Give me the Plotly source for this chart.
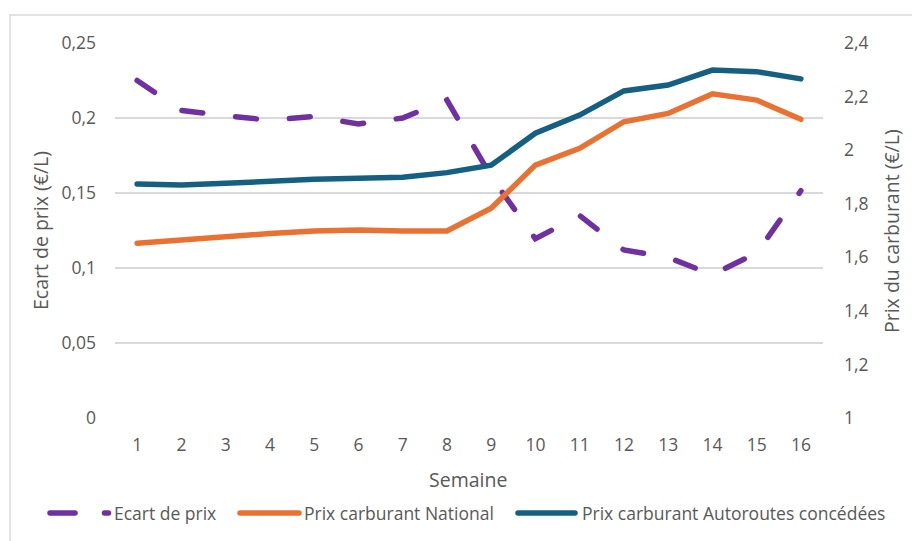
import plotly.graph_objects as go

weeks = list(range(1, 17))
ecart = [0.225, 0.205, 0.2015, 0.1985, 0.201, 0.196, 0.200, 0.212,
         0.161, 0.1195, 0.135, 0.112, 0.107, 0.0955, 0.110, 0.1515]
national = [1.652, 1.664, 1.681, 1.689, 1.698, 1.702, 1.698, 1.698,
            1.783, 1.944, 2.007, 2.106, 2.137, 2.210, 2.187, 2.115]
autoroutes = [1.8735, 1.870, 1.876, 1.885, 1.891, 1.895, 1.899, 1.916,
              1.944, 2.063, 2.131, 2.221, 2.243, 2.299, 2.293, 2.266]

left_ticks = [0, 0.05, 0.1, 0.15, 0.2, 0.25]
left_text = ["0", "0,05", "0,1", "0,15", "0,2", "0,25"]
right_ticks = [1, 1.2, 1.4, 1.6, 1.8, 2.0, 2.2, 2.4]
right_text = ["1", "1,2", "1,4", "1,6", "1,8", "2", "2,2", "2,4"]

names = ["Ecart de prix", "Prix carburant National", "Prix carburant Autoroutes concédées"]
PURPLE = "#7030A0"
ORANGE = "#E97132"
BLUE = "#156082"
GREY = "#595959"
GRID = "#D9D9D9"
FONT = "Open Sans"
TICK_SIZE = 17.5
TITLE_SIZE = 19.5

W, H = 912, 541
L, R, T, B = 115, 823, 43, 418


def px(x):
    return (x - L) / (R - L)


def py(y):
    return (B - y) / (B - T)


fig = go.Figure()
fig.add_trace(go.Scatter(x=weeks, y=ecart, name=names[0], mode="lines",
                         line=dict(color=PURPLE, width=5.5, dash="21px,33px"),
                         yaxis="y"))
fig.add_trace(go.Scatter(x=weeks, y=national, name=names[1], mode="lines",
                         line=dict(color=ORANGE, width=5.5), yaxis="y2"))
fig.add_trace(go.Scatter(x=weeks, y=autoroutes, name=names[2], mode="lines",
                         line=dict(color=BLUE, width=5.5), yaxis="y2"))

shapes = []
# chart border (top and left)
shapes.append(dict(type="line", xref="paper", yref="paper", x0=px(10), x1=px(W + 5),
                   y0=py(15), y1=py(15), line=dict(color=GRID, width=1.5)))
shapes.append(dict(type="line", xref="paper", yref="paper", x0=px(10), x1=px(10),
                   y0=py(15), y1=py(H + 5), line=dict(color=GRID, width=1.5)))
# legend symbols
ly = py(513)
shapes.append(dict(type="line", xref="paper", yref="paper", x0=px(50), x1=px(75),
                   y0=ly, y1=ly, line=dict(color=PURPLE, width=5.5)))
shapes.append(dict(type="line", xref="paper", yref="paper", x0=px(104.5), x1=px(108.5),
                   y0=ly, y1=ly, line=dict(color=PURPLE, width=5.5)))
shapes.append(dict(type="line", xref="paper", yref="paper", x0=px(240), x1=px(299),
                   y0=ly, y1=ly, line=dict(color=ORANGE, width=5.5)))
shapes.append(dict(type="line", xref="paper", yref="paper", x0=px(518), x1=px(575),
                   y0=ly, y1=ly, line=dict(color=BLUE, width=5.5)))

leg_font = dict(family=FONT, size=TICK_SIZE, color=GREY)
title_font = dict(family=FONT, size=TITLE_SIZE, color=GREY)
annotations = [
    dict(text=names[0], x=px(112), y=ly, xref="paper", yref="paper",
         xanchor="left", yanchor="middle", showarrow=False, font=leg_font),
    dict(text=names[1], x=px(302), y=ly, xref="paper", yref="paper",
         xanchor="left", yanchor="middle", showarrow=False, font=leg_font),
    dict(text=names[2], x=px(580), y=ly, xref="paper", yref="paper",
         xanchor="left", yanchor="middle", showarrow=False, font=leg_font),
    dict(text="Semaine", x=px(468), y=py(479), xref="paper", yref="paper",
         xanchor="center", yanchor="middle", showarrow=False, font=title_font),
    dict(text="Ecart de prix (€/L)", x=px(40), y=py(231), xref="paper", yref="paper",
         xanchor="center", yanchor="middle", textangle=-90, showarrow=False, font=title_font),
    dict(text="Prix du carburant (€/L)", x=px(891), y=py(231), xref="paper", yref="paper",
         xanchor="center", yanchor="middle", textangle=-90, showarrow=False, font=title_font),
]

fig.update_layout(
    width=W, height=H,
    margin=dict(l=L, r=W - R, t=T, b=H - B, pad=0),
    plot_bgcolor="white", paper_bgcolor="white",
    showlegend=False,
    hovermode=False,
    font=dict(family=FONT, size=TICK_SIZE, color=GREY),
    shapes=shapes,
    annotations=annotations,
    xaxis=dict(range=[0.5, 16.5], tickvals=weeks, ticktext=[str(w) for w in weeks],
               showgrid=False, zeroline=False, showline=False, ticks="",
               ticklabelstandoff=14, fixedrange=True),
    yaxis=dict(range=[0, 0.25], tickvals=left_ticks, ticktext=left_text,
               showgrid=True, gridcolor=GRID, gridwidth=1.3, zeroline=False,
               showline=False, ticks="", ticklabelstandoff=18),
    yaxis2=dict(range=[1, 2.4], tickvals=right_ticks, ticktext=right_text,
                overlaying="y", side="right", showgrid=False, zeroline=False,
                showline=False, ticks="", ticklabelstandoff=20),
)

js = ("document.body.style.margin='0';document.body.style.overflow='hidden';"
      "var gd=document.getElementById('{plot_id}');"
      "gd.querySelectorAll('path.js-line, .shapelayer path').forEach(function(p){"
      "p.style.strokeLinecap='round';});")
fig.write_html("out.html", post_script=js, config={"displayModeBar": False, "staticPlot": True})
